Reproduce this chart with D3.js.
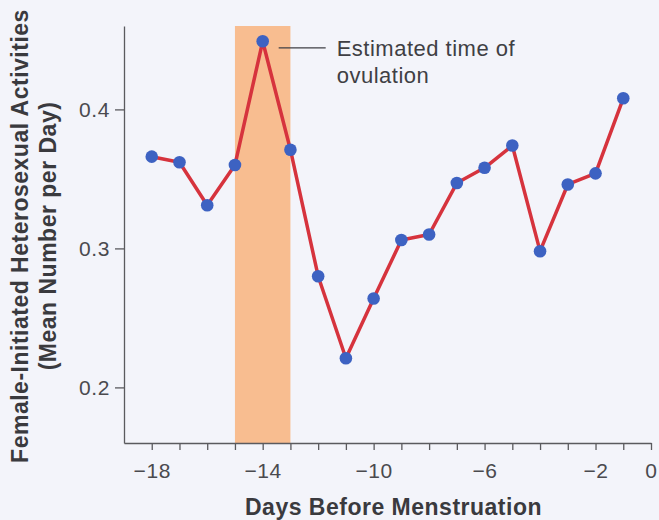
<!DOCTYPE html>
<html>
<head>
<meta charset="utf-8">
<script src="https://cdn.jsdelivr.net/npm/d3@7"></script>
<style>
	html, body { margin: 0; padding: 0; background: #f3f4fa; }
	svg { display: block; font-family: "Liberation Sans", Arial, Helvetica, sans-serif; }
	.axis path, .axis line { stroke: #5a5a5e; stroke-width: 1.3; }
	.axis text { fill: #4a4a4e; font-size: 21px; letter-spacing: 0.6px; }
	.title { fill: #3a3a3e; font-weight: bold; font-size: 23px; letter-spacing: 0.5px; }
	.note { fill: #3f3f44; font-size: 22px; letter-spacing: 0.5px; }
</style>
</head>
<body>
<div class="chart"><svg></svg></div>
<script>
(function() {

	// DATA
	var days = [-18, -17, -16, -15, -14, -13, -12, -11, -10, -9, -8, -7, -6, -5, -4, -3, -2, -1]
	var activity = [0.366, 0.362, 0.331, 0.360, 0.449, 0.371, 0.280, 0.221, 0.264, 0.306, 0.310, 0.347, 0.358, 0.374, 0.298, 0.346, 0.354, 0.408]
	var xTicks = [-18, -17, -16, -15, -14, -13, -12, -11, -10, -9, -8, -7, -6, -5, -4, -3, -2, -1, 0]
	var xTickLabels = [-18, -14, -10, -6, -2, 0]
	var yTicks = [0.2, 0.3, 0.4]
	var ovulationWindow = [-15, -13]
	var xDomain = [-19, 0]
	var yDomain = [0.16, 0.46]
	var yTitle = ['Female-Initiated Heterosexual Activities', '(Mean Number per Day)']
	var xTitle = 'Days Before Menstruation'
	var noteLines = ['Estimated time of', 'ovulation']

	var svg_width = 659
	var svg_height = 520
	var margin = { top: 26, bottom: 77, left: 124, right: 8 }
	var width = svg_width - margin.left - margin.right
	var height = svg_height - margin.top - margin.bottom

	var svg = d3.select('.chart svg')
		.attr('width', svg_width)
		.attr('height', svg_height)

	var g = svg.append('g')
		.attr('transform', 'translate(' + margin.left + ',' + margin.top + ')')

	var x = d3.scaleLinear().domain(xDomain).range([0, width])
	var y = d3.scaleLinear().domain(yDomain).range([height, 0])

	var data = days.map(function(d, i) { return { day: d, value: activity[i] } })

	// ovulation band
	g.append('rect')
		.attr('x', x(ovulationWindow[0]))
		.attr('y', 0)
		.attr('width', x(ovulationWindow[1]) - x(ovulationWindow[0]))
		.attr('height', height)
		.style('fill', '#f8bd90')

	// axes
	var axisX = d3.axisBottom(x)
		.tickValues(xTicks)
		.tickSize(7)
		.tickSizeOuter(0)
		.tickPadding(13)
		.tickFormat(function(d) {
			return xTickLabels.indexOf(d) === -1 ? '' : (d < 0 ? '\u2212' + Math.abs(d) : d)
		})

	g.append('g')
		.attr('class', 'axis axis--x')
		.attr('transform', 'translate(0,' + height + ')')
		.call(axisX)

	var axisY = d3.axisLeft(y)
		.tickValues(yTicks)
		.tickSize(9)
		.tickSizeOuter(0)
		.tickPadding(5)
		.tickFormat(d3.format('.1f'))

	g.append('g')
		.attr('class', 'axis axis--y')
		.call(axisY)

	// line + dots
	var line = d3.line()
		.x(function(d) { return x(d.day) })
		.y(function(d) { return y(d.value) })

	g.append('path')
		.datum(data)
		.attr('d', line)
		.style('fill', 'none')
		.style('stroke', '#d6333d')
		.style('stroke-width', 3.5)
		.style('stroke-linejoin', 'round')

	g.selectAll('.dot')
		.data(data)
		.enter().append('circle')
		.attr('class', 'dot')
		.attr('cx', function(d) { return x(d.day) })
		.attr('cy', function(d) { return y(d.value) })
		.attr('r', 6.3)
		.style('fill', '#3d62c2')

	// annotation at the peak
	var peak = data[d3.maxIndex(data, function(d) { return d.value })]
	var px = x(peak.day)
	var py = y(peak.value)

	g.append('line')
		.attr('x1', px + 16)
		.attr('x2', px + 63)
		.attr('y1', py + 6.5)
		.attr('y2', py + 6.5)
		.style('stroke', '#3f3f44')
		.style('stroke-width', 1.3)

	g.append('text')
		.attr('class', 'note')
		.attr('x', px + 74)
		.attr('y', py + 14.5)
		.selectAll('tspan')
		.data(noteLines)
		.enter().append('tspan')
		.attr('x', px + 74)
		.attr('dy', function(d, i) { return i === 0 ? 0 : 27.6 })
		.text(function(d) { return d })

	// axis titles
	svg.append('text')
		.attr('class', 'title')
		.attr('text-anchor', 'middle')
		.attr('x', margin.left + width / 2 + 6)
		.attr('y', 515)
		.text(xTitle)

	svg.append('text')
		.attr('class', 'title')
		.attr('text-anchor', 'middle')
		.attr('transform', 'translate(0,236)rotate(-90)')
		.selectAll('tspan')
		.data(yTitle)
		.enter().append('tspan')
		.attr('x', 0)
		.attr('y', function(d, i) { return 28 + i * 28 })
		.text(function(d) { return d })

})()
</script>
</body>
</html>
